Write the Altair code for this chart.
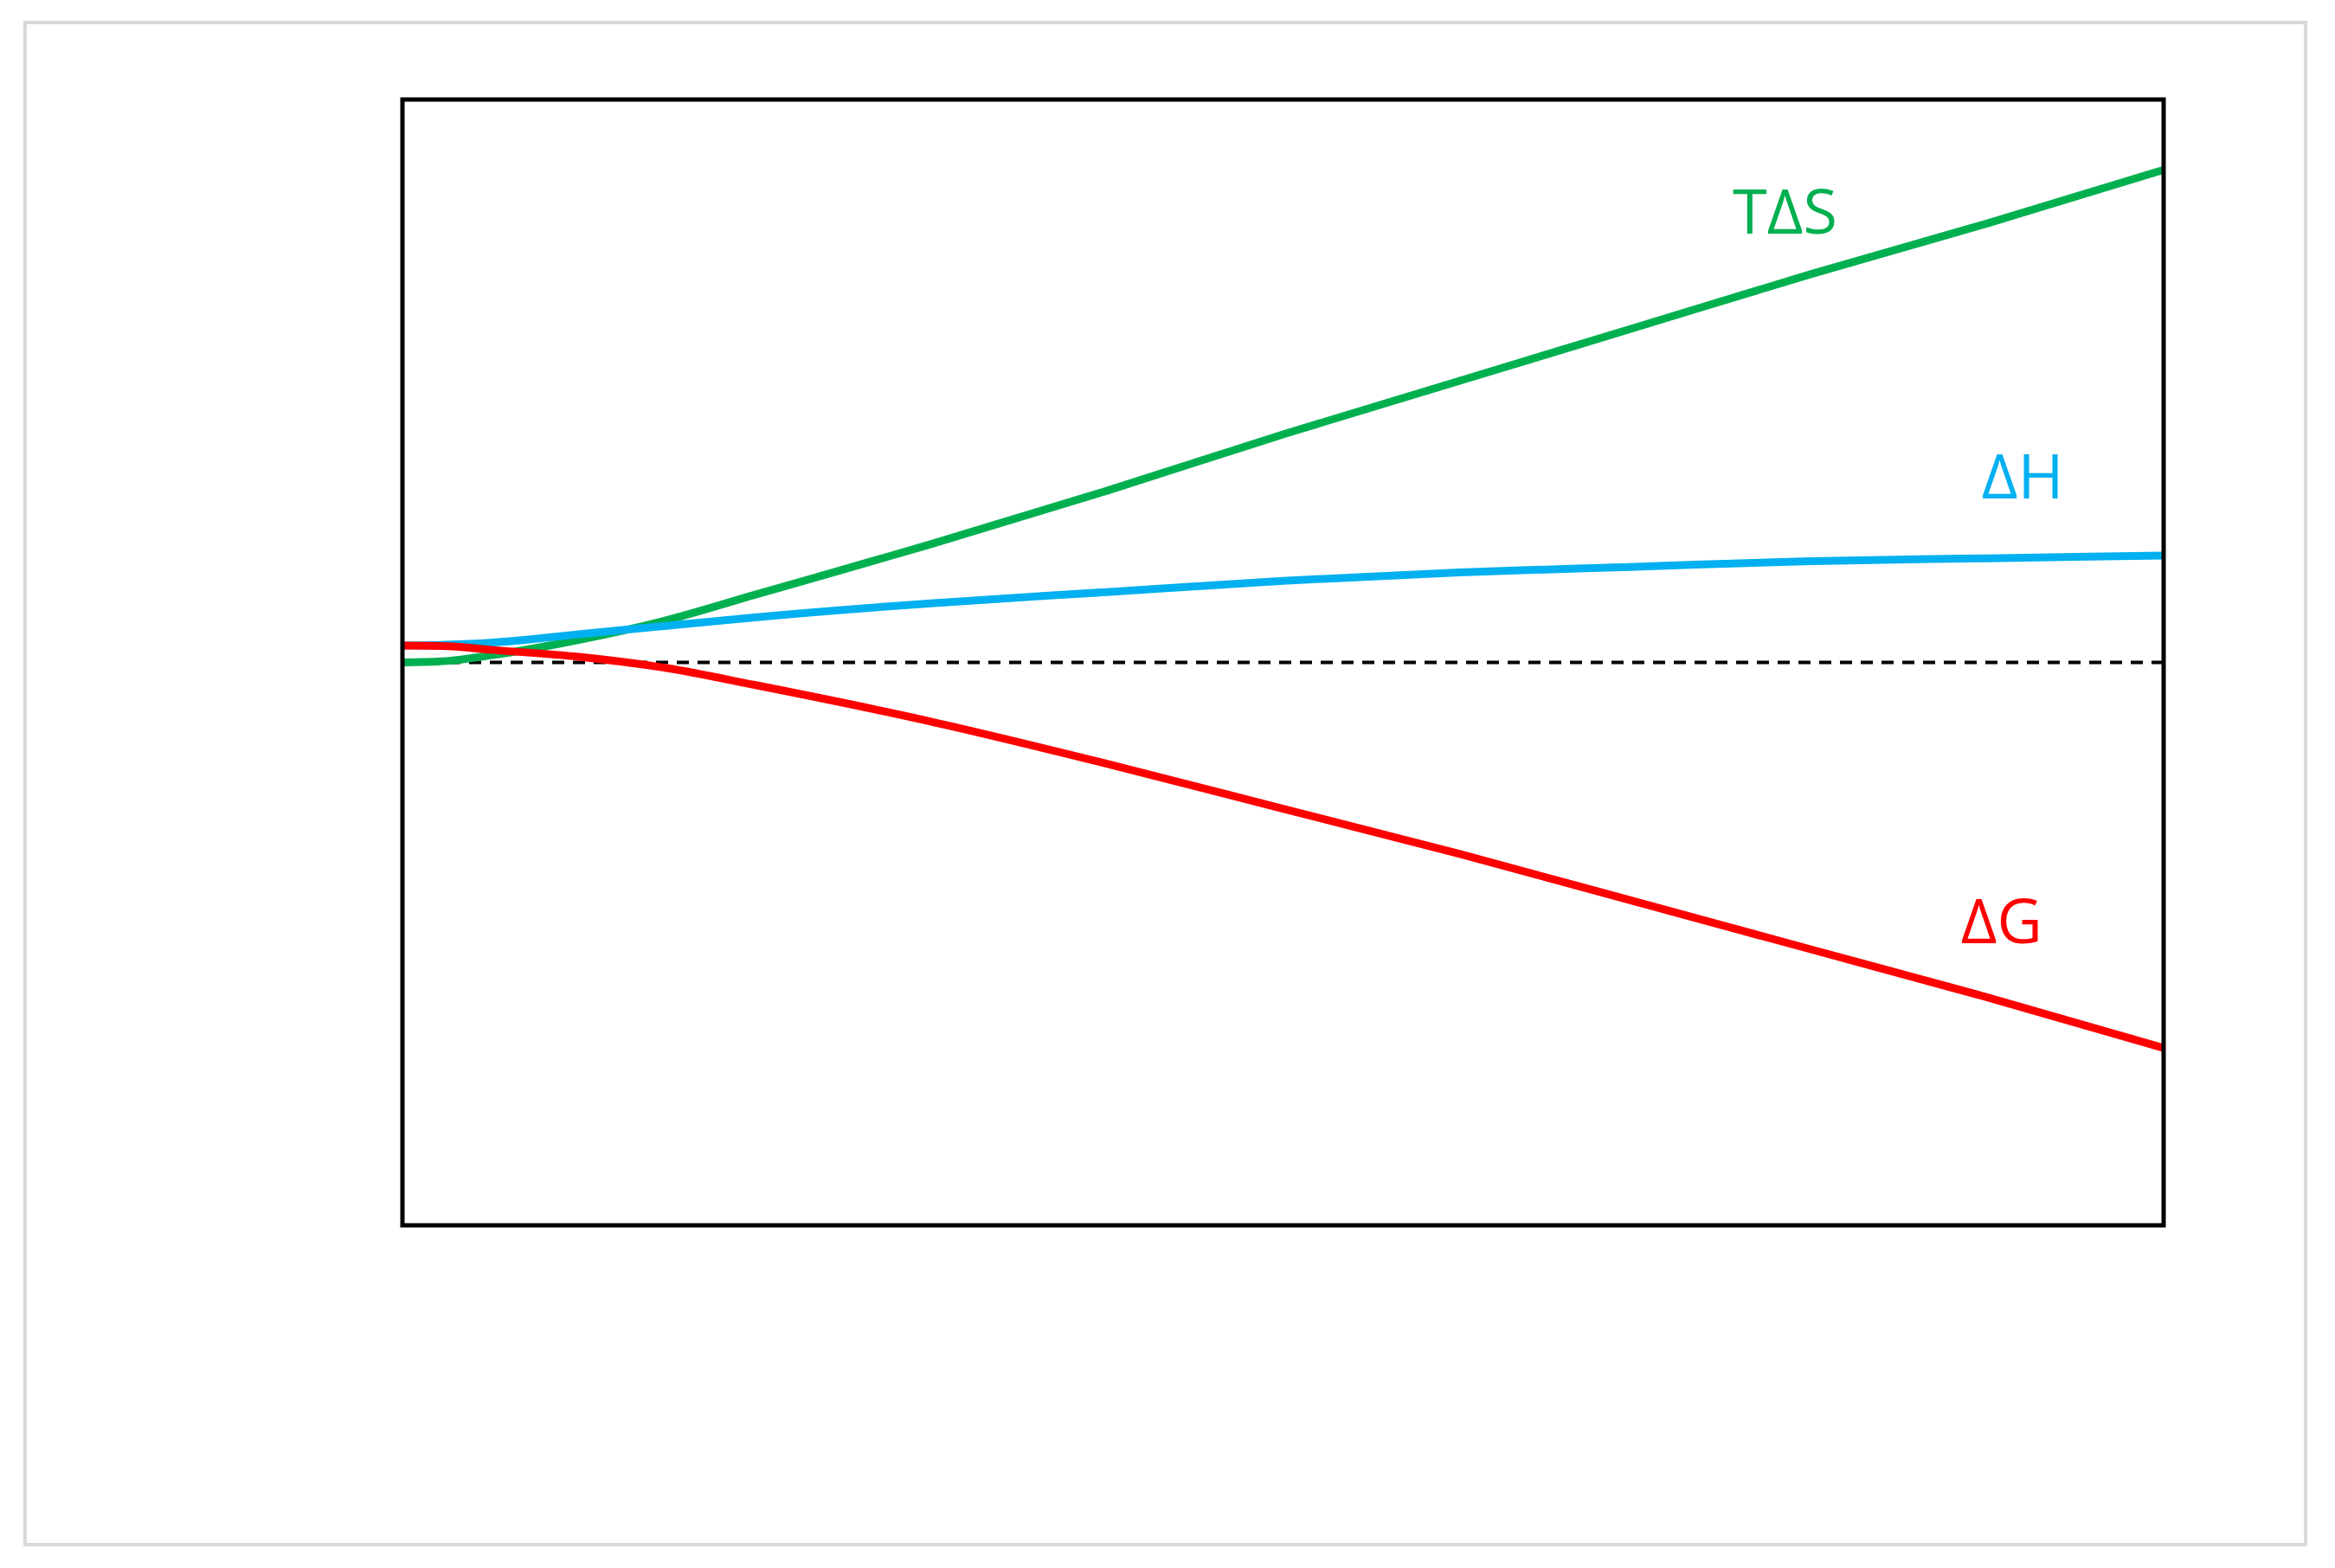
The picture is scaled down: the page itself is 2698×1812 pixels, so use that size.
import altair as alt
import pandas as pd

temps = [0, 25, 50, 100, 150, 200, 300, 400, 500, 600, 700, 800, 900, 1000]
t_ds = [0, 0.5, 2.5, 8, 15, 24, 42, 61, 81, 100, 119, 138, 156, 175]
d_h = [6, 6.3, 7, 10, 13, 16, 21, 25, 29, 32, 34, 36, 37, 38]
d_g = [6, 5.8, 4.5, 2, -2, -8, -21, -36, -52, -68, -85, -102, -119, -137]

series = ["TΔS", "ΔH", "ΔG"]
colors = ["#00B050", "#00B0F0", "#FF0000"]
label_t = [785, 920, 908]
label_v = [159, 65, -93]

rows = []
for name, vals in zip(series, [t_ds, d_h, d_g]):
    for t, v in zip(temps, vals):
        rows.append({"T": t, "v": v, "s": name})
df = pd.DataFrame(rows)
labels = pd.DataFrame({"T": label_t, "v": label_v, "s": series})

FONT = "Open Sans"
x = alt.X("T:Q", scale=alt.Scale(domain=[0, 1000], nice=False),
          axis=alt.Axis(values=list(range(0, 1001, 100)), title="Temperature [K]"))
y = alt.Y("v:Q", scale=alt.Scale(domain=[-200, 200], nice=False),
          axis=alt.Axis(values=list(range(-200, 201, 50)), title="Relative thermochemistry [kJ/mol]"))
color = alt.Color("s:N", scale=alt.Scale(domain=series, range=colors), legend=None)

one = pd.DataFrame({"a": [0]})

# outer light grey frame and the black plot box
frame = alt.Chart(one).mark_rect(
    fill="white", stroke="#d9d9d9", strokeWidth=4
).encode(x=alt.value(-436), x2=alt.value(2199), y=alt.value(-89), y2=alt.value(1670))

box = alt.Chart(one).mark_rect(
    fillOpacity=0, stroke="black", strokeWidth=5
).encode(x=alt.value(0), x2=alt.value(2035), y=alt.value(0), y2=alt.value(1301))

zero = alt.Chart(pd.DataFrame({"v": [0]})).mark_rule(
    color="black", strokeDash=[14, 10], strokeWidth=4
).encode(y=alt.Y("v:Q", scale=alt.Scale(domain=[-200, 200], nice=False)))

lines = alt.Chart(df).mark_line(strokeWidth=9, interpolate="monotone").encode(x=x, y=y, color=color)

text = alt.Chart(labels).mark_text(fontSize=72, font=FONT).encode(
    x="T:Q", y="v:Q", text="s:N", color=color
)

chart = (frame + zero + lines + box + text).properties(
    width=2035, height=1301,
    autosize=alt.AutoSizeParams(type="none"),
    padding={"left": 457, "top": 107, "right": 180, "bottom": 380},
).configure_view(stroke=None).configure_axis(
    grid=False, ticks=False, domain=False, zindex=1,
    labelFont=FONT, labelFontSize=56, labelColor="#595959", labelPadding=22,
    titleFont=FONT, titleFontSize=66, titleFontWeight="normal", titleColor="black",
).configure_axisX(titlePadding=40).configure_axisY(titlePadding=30)

chart.save("out.html", embed_options={"renderer": "svg", "actions": False})
